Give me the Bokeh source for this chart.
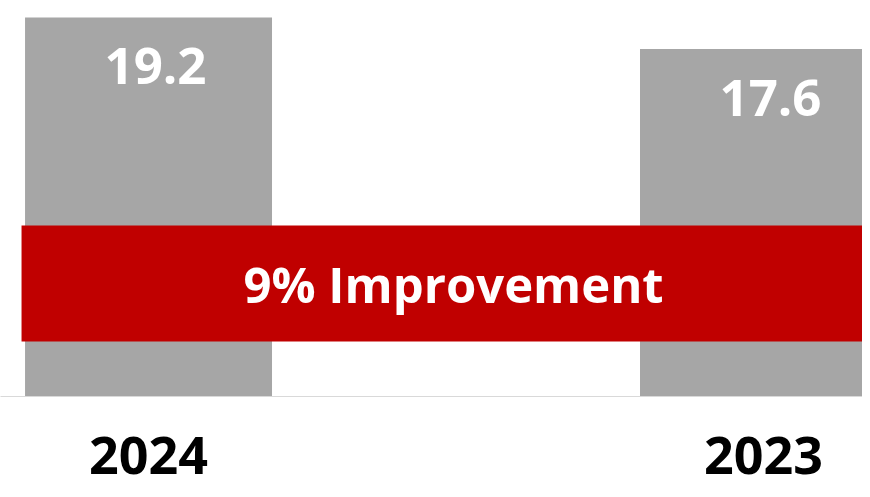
from bokeh.plotting import figure
from bokeh.models import Range1d, FixedTicker, ColumnDataSource
from bokeh.core.properties import value
from bokeh.embed import file_html
from bokeh.resources import INLINE

years = ["2024", "2023"]
values = [19.2, 17.6]
value_labels = ["19.2", "17.6"]
banner_text = "9% Improvement"

FONT = "Open Sans"
GRAY = "#a6a6a6"
RED = "#c00000"

xs = list(range(len(years)))
src = ColumnDataSource(dict(x=xs, top=values, label=value_labels))

p = figure(width=862, height=489, output_backend="svg", toolbar_location=None,
           x_range=Range1d(-0.2407, 1.161), y_range=Range1d(0, 20.06),
           y_axis_location=None, min_border_left=0, min_border_right=0,
           min_border_top=0, min_border_bottom=93)
p.outline_line_color = None
p.grid.visible = False
p.background_fill_color = "white"

p.vbar(x="x", top="top", bottom=0, width=0.4016, source=src,
       fill_color=GRAY, line_color=None)

p.text(x="x", y="top", text="label", source=src, y_offset=49, x_offset=7,
       text_align="center", text_baseline="alphabetic",
       text_font=value(FONT), text_font_style="bold",
       text_font_size="51px", text_color="white")

# banner
p.quad(left=[-0.2065], right=[1.3], bottom=[2.786], top=[8.663],
       fill_color=RED, line_color=None)

p.text(x=[0.496], y=[5.68], text=[banner_text], text_align="center",
       text_baseline="alphabetic", text_font=value(FONT),
       text_font_style="bold", text_font_size="49px", text_color="white")

ax = p.xaxis[0]
ax.ticker = FixedTicker(ticks=xs)
ax.major_label_overrides = {i: y for i, y in zip(xs, years)}
ax.major_label_text_font = FONT
ax.major_label_text_font_style = "bold"
ax.major_label_text_font_size = "52px"
ax.major_label_text_color = "black"
ax.axis_line_color = "#d9d9d9"
ax.major_tick_line_color = None
ax.minor_tick_line_color = None
ax.major_tick_out = 0
ax.major_label_standoff = 40

open("out.html", "w").write(file_html(p, INLINE))
